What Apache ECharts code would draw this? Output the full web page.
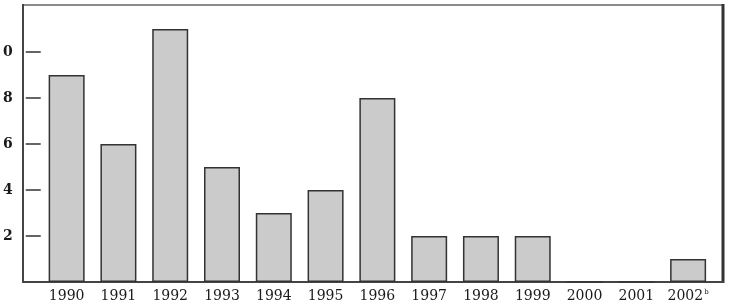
<!DOCTYPE html>
<html><head><meta charset="utf-8">
<script src="https://cdn.jsdelivr.net/npm/echarts@6/dist/echarts.min.js"></script>
<style>html,body{margin:0;padding:0;background:#fff}#c{width:731px;height:308px}</style>
</head><body><div id="c"></div>
<script>
const years = ['1990','1991','1992','1993','1994','1995','1996','1997','1998','1999','2000','2001','2002'];
const counts = [9, 6, 11, 5, 3, 4, 8, 2, 2, 2, 0, 0, 1];
const yTickValues = [2, 4, 6, 8, 10];
const yTickLabels = {2:'2', 4:'4', 6:'6', 8:'8', 10:'0'};
const yearNotes = {'2002':'b'};

const chart = echarts.init(document.getElementById('c'), null, {renderer:'canvas'});
const serif = '"DejaVu Serif","Liberation Serif",serif';
chart.setOption({
  animation:false,
  backgroundColor:'#fff',
  grid:{left:38, right:17, top:6, bottom:26},
  xAxis:{
    type:'category', data:years,
    axisLine:{show:false}, axisTick:{show:false},
    axisLabel:{
      interval:0, margin:7, color:'#1a1a1a', fontFamily:serif, fontSize:14,
      formatter:v => yearNotes[v] ? v + '{s|' + yearNotes[v] + '}' : v,
      rich:{s:{fontSize:7, verticalAlign:'top', padding:[0,0,6,1], color:'#1a1a1a', fontFamily:serif}}
    }
  },
  yAxis:{
    type:'value', min:0, max:12, interval:2, offset:15,
    splitLine:{show:false},
    axisLine:{show:false},
    axisTick:{show:true, inside:true, length:15, customValues:yTickValues, lineStyle:{color:'#333', width:1.5}},
    axisLabel:{margin:13, color:'#1a1a1a', fontFamily:serif, fontSize:14, fontWeight:'bold', customValues:yTickValues,
      formatter:v => yTickLabels[v] !== undefined ? yTickLabels[v] : ''}
  },
  series:[{
    type:'bar', data:counts, barWidth:36,
    itemStyle:{color:'#cbcbcb', borderColor:'#333', borderWidth:1.5}
  }],
  graphic:[
    {type:'line', shape:{x1:23,y1:5,x2:723,y2:5}, style:{stroke:'#8a8a8a', lineWidth:2}},
    {type:'line', shape:{x1:23,y1:4,x2:23,y2:282}, style:{stroke:'#444', lineWidth:2}},
    {type:'line', shape:{x1:723,y1:4,x2:723,y2:283}, style:{stroke:'#333', lineWidth:3}},
    {type:'line', shape:{x1:22,y1:282,x2:724,y2:282}, style:{stroke:'#444', lineWidth:2}}
  ]
});
</script></body></html>
